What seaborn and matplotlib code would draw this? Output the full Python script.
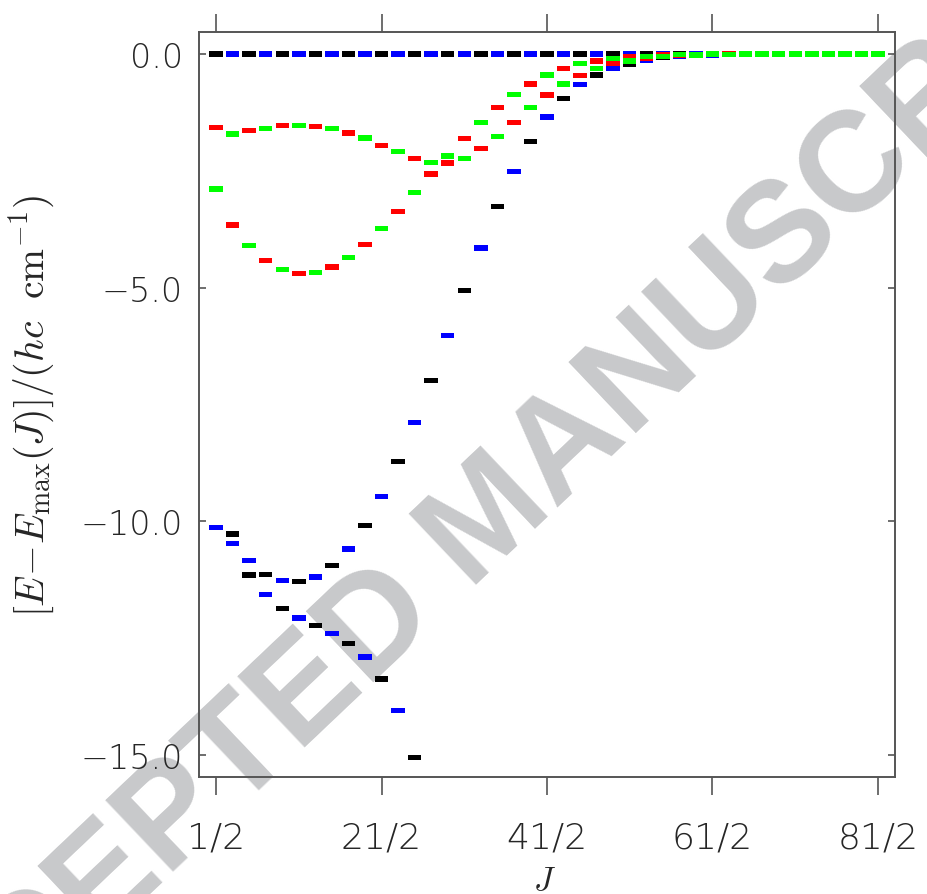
import numpy as np
import pandas as pd
import matplotlib
matplotlib.use("Agg")
import matplotlib.pyplot as plt
import seaborn as sns

# J = 1/2, 3/2, ..., 81/2  (index k = J - 1/2)
J = np.arange(41) + 0.5

# top level of each J (E = Emax): black for even k, blue for odd k
top_E = [0.0, 0.0, 0.0, 0.0, 0.0, 0.0, 0.0, 0.0, 0.0, 0.0,
         0.0, 0.0, 0.0, 0.0, 0.0, 0.0, 0.0, 0.0, 0.0, 0.0,
         0.0, 0.0, 0.0, 0.0, 0.0, 0.0, 0.0, 0.0, 0.0, 0.0,
         0.0, 0.0, 0.0, 0.0, 0.0, 0.0, 0.0, 0.0, 0.0, 0.0, 0.0]

# black/blue U-shaped branch: blue for even k, black for odd k
bb_upper_E = [-10.13, -10.27, -10.83, -11.13, -11.27, -11.29, -11.19, -10.95, -10.59, -10.09,
              -9.47, -8.72, -7.89, -6.99, -6.02, -5.06, -4.15, -3.27, -2.51, -1.87,
              -1.35, -0.96, -0.66, -0.45, -0.31, -0.22, -0.13, -0.08, -0.05, -0.03,
              -0.02, -0.01, -0.01, 0.0, 0.0, 0.0, 0.0, 0.0, 0.0, 0.0, 0.0]

# black/blue falling branch (k = 1..12): blue for odd k, black for even k
bb_lower_E = [-10.47, -11.15, -11.57, -11.86, -12.07, -12.23,
              -12.40, -12.61, -12.90, -13.37, -14.05, -15.05]

# red/green branch A: red for even k, green for odd k
rg_A_E = [-1.58, -1.71, -1.64, -1.59, -1.53, -1.53, -1.55, -1.60, -1.69, -1.80,
          -1.95, -2.09, -2.24, -2.32, -2.33, -2.23, -2.03, -1.76, -1.46, -1.15,
          -0.88, -0.64, -0.46, -0.31, -0.21, -0.15, -0.10, -0.05, -0.04, -0.02,
          -0.01, -0.01, 0.0, 0.0, 0.0, 0.0, 0.0, 0.0, 0.0, 0.0, 0.0]

# red/green branch B: green for even k, red for odd k
rg_B_E = [-2.89, -3.66, -4.10, -4.42, -4.61, -4.70, -4.67, -4.56, -4.35, -4.07,
          -3.74, -3.37, -2.97, -2.57, -2.18, -1.81, -1.46, -1.14, -0.87, -0.64,
          -0.45, -0.31, -0.21, -0.15, -0.09, -0.05, -0.05, -0.02, -0.01, -0.01,
          0.0, 0.0, 0.0, 0.0, 0.0, 0.0, 0.0, 0.0, 0.0, 0.0, 0.0]

tick_J = [0.5, 10.5, 20.5, 30.5, 40.5]
tick_labels = ['1/2', '21/2', '41/2', '61/2', '81/2']

sym_colors = {'black': '#000000', 'blue': '#0000ff', 'red': '#ff0000', 'green': '#00ff00'}
draw_order = ['black', 'blue', 'red', 'green']


def branch(values, k0, even_sym, odd_sym):
    rows = []
    for i, e in enumerate(values):
        k = k0 + i
        rows.append({'J': J[k], 'E': e, 'sym': even_sym if k % 2 == 0 else odd_sym})
    return rows


rows = []
rows += branch(top_E, 0, 'black', 'blue')
rows += branch(bb_upper_E, 0, 'blue', 'black')
rows += branch(bb_lower_E, 1, 'black', 'blue')
rows += branch(rg_A_E, 0, 'red', 'green')
rows += branch(rg_B_E, 0, 'green', 'red')
df = pd.DataFrame(rows)
df['order'] = df['sym'].map({s: i for i, s in enumerate(draw_order)})
df = df.sort_values('order', kind='stable')

sns.set_style('white')
plt.rcParams['font.family'] = ['DejaVu Sans']
plt.rcParams['mathtext.fontset'] = 'cm'

fig = plt.figure(figsize=(9.27, 8.95), dpi=100)
fig.patch.set_facecolor('white')
ax = fig.add_axes([0.2147, 0.1307, 0.7508, 0.8324])
ax.set_facecolor('none')

# flat dash marker
dash = [(-1, -0.39), (1, -0.39), (1, 0.39), (-1, 0.39)]
sns.scatterplot(data=df, x='J', y='E', hue='sym', palette=sym_colors,
                marker=dash, s=94, linewidth=0, legend=False, ax=ax)

ax.set_xlim(-0.53, 41.53)
ax.set_ylim(-15.47, 0.47)

ax.set_xticks(tick_J)
ax.set_xticklabels(tick_labels)
ax.set_yticks([0.0, -5.0, -10.0, -15.0])
ax.set_yticklabels(['0.0', '\u22125.0', '\u221210.0', '\u221215.0'])

spine_col = '#555555'
for sp in ax.spines.values():
    sp.set_color(spine_col)
    sp.set_linewidth(1.4)

ax.tick_params(axis='x', which='major', direction='out', length=13, width=1.2,
               color=spine_col, top=True, bottom=True, labeltop=False,
               labelsize=26, pad=18)
ax.tick_params(axis='y', which='major', direction='in', length=5, width=1.2,
               color=spine_col, left=True, right=True, labelright=False,
               labelsize=24, pad=11.5)
for lab in ax.get_xticklabels() + ax.get_yticklabels():
    lab.set_fontweight(200)

ax.set_xlabel(r'$J$', fontsize=24)
ax.xaxis.set_label_coords(0.497, -0.115)
ax.set_ylabel(r'$[E\!-\!E_{\rm max}(J)]/(hc\ \ {\rm cm}^{-1})$', fontsize=28.5)
ax.yaxis.set_label_coords(-0.204, 0.5)

# watermark behind the frame
fig.text(0.5286, 0.418, 'ACCEPTED MANUSCRIPT', rotation=43.5, ha='center', va='center',
         fontsize=102, fontweight='bold', family=['Liberation Sans', 'DejaVu Sans'],
         color='#c8c9cb', zorder=-1)

fig.savefig('out.png', dpi=100, facecolor='white')
